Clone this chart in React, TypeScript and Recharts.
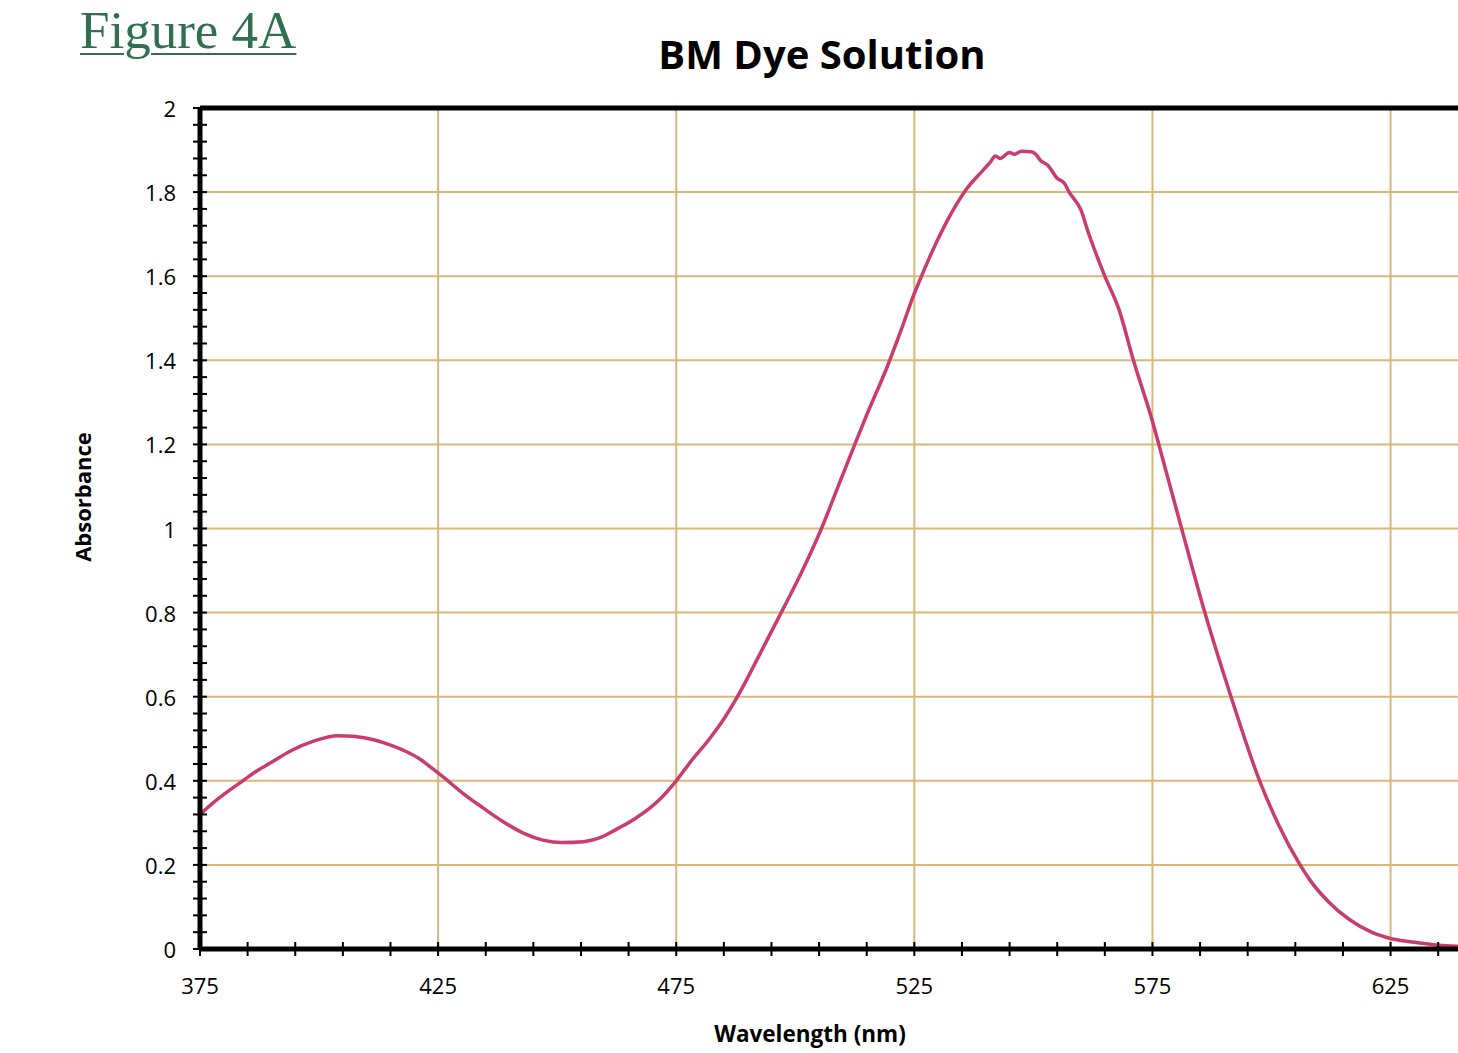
import { CartesianGrid, Line, LineChart, ReferenceLine, XAxis, YAxis } from "recharts";

// spectrum
const wavelength = [
  375, 378, 381, 384, 387, 390, 394, 399, 404, 407, 410, 414, 418, 421, 423.5,
  426.5, 430, 434.5, 438.5, 443, 447, 451, 455.5, 459.5, 462.5, 466.5, 471, 475,
  478, 482, 485, 488, 492.5, 497.5, 501.5, 505.5, 509, 512.5, 515, 519.5, 522,
  525, 526.5, 529, 532, 536, 539.5, 541, 542, 543, 545, 546, 547.5, 549.5,
  550.5, 551.5, 553, 555, 556.5, 557.5, 560, 561.5, 565, 568, 571, 575, 576.5,
  581, 586, 591.5, 597.5, 601.5, 606, 608, 612, 616.5, 621, 625, 630, 635, 640,
];
const absorbance = [
  0.32, 0.35, 0.376, 0.4, 0.424, 0.444, 0.471, 0.495, 0.507, 0.506, 0.501,
  0.489, 0.471, 0.453, 0.432, 0.405, 0.372, 0.335, 0.304, 0.275, 0.259, 0.253,
  0.255, 0.267, 0.285, 0.311, 0.35, 0.4, 0.445, 0.5, 0.547, 0.603, 0.7, 0.81,
  0.9, 1.0, 1.1, 1.2, 1.27, 1.39, 1.465, 1.559, 1.6, 1.665, 1.734, 1.808,
  1.853, 1.872, 1.886, 1.88, 1.894, 1.89, 1.897, 1.896, 1.89, 1.875, 1.864,
  1.833, 1.821, 1.8, 1.757, 1.705, 1.6, 1.52, 1.4, 1.255, 1.193, 1.005, 0.8,
  0.6, 0.4, 0.295, 0.2, 0.165, 0.112, 0.069, 0.04, 0.025, 0.016, 0.009, 0.006,
];

const xLabels = [375, 425, 475, 525, 575, 625];
const xTicks = [
  375, 385, 395, 405, 415, 425, 435, 445, 455, 465, 475, 485, 495, 505, 515,
  525, 535, 545, 555, 565, 575, 585, 595, 605, 615, 625, 635,
];
const yLabels = [0, 0.2, 0.4, 0.6, 0.8, 1, 1.2, 1.4, 1.6, 1.8, 2];
const yTicks = Array.from({ length: 51 }, (_, i) => +(i * 0.04).toFixed(2));

const data = wavelength.map((nm, i) => ({ nm, abs: absorbance[i] }));

const FONT = "'Open Sans', sans-serif";
const GRID = "#d8b878";

const XTick = ({ x, y, payload }: any) => (
  <g>
    <line x1={x} x2={x} y1={y - 7} y2={y + 7} stroke="#000" strokeWidth={2} />
    {xLabels.includes(payload.value) && (
      <text x={x} y={y + 36} textAnchor="middle" dominantBaseline="central" fontSize={22} fontFamily={FONT} fill="#000">
        {payload.value}
      </text>
    )}
  </g>
);

const YTick = ({ x, y, payload }: any) => (
  <g>
    <line x1={x - 7} x2={x + 7} y1={y} y2={y} stroke="#000" strokeWidth={2} />
    {yLabels.includes(payload.value) && (
      <text x={x - 24} y={y} textAnchor="end" dominantBaseline="central" fontSize={22} fontFamily={FONT} fill="#000">
        {String(payload.value)}
      </text>
    )}
  </g>
);

export default function App() {
  return (
    <div
      style={{
        position: "absolute",
        left: 0,
        top: 0,
        width: 1458,
        height: 1053,
        overflow: "hidden",
        background: "#fff",
        fontFamily: FONT,
      }}
    >
      <div
        style={{
          position: "absolute",
          left: 80,
          top: 0,
          fontFamily: "'Liberation Serif', serif",
          fontSize: 53,
          lineHeight: "60px",
          color: "#31704f",
          textDecoration: "underline",
          textDecorationThickness: 2,
          textUnderlineOffset: 5,
          whiteSpace: "nowrap",
        }}
      >
        Figure 4A
      </div>
      <div
        style={{
          position: "absolute",
          left: 822,
          top: 53,
          transform: "translate(-50%, -50%)",
          fontSize: 40,
          fontWeight: 700,
          whiteSpace: "nowrap",
        }}
      >
        BM Dye Solution
      </div>
      <div
        style={{
          position: "absolute",
          left: 82,
          top: 497,
          transform: "translate(-50%, -50%) rotate(-90deg)",
          fontSize: 22,
          fontWeight: 700,
          whiteSpace: "nowrap",
        }}
      >
        Absorbance
      </div>
      <div
        style={{
          position: "absolute",
          left: 810,
          top: 1033,
          transform: "translate(-50%, -50%)",
          fontSize: 22.5,
          fontWeight: 700,
          whiteSpace: "nowrap",
        }}
      >
        Wavelength (nm)
      </div>
      <div style={{ position: "absolute", left: 0, top: 0 }}>
        <LineChart width={1462} height={1053} data={data} margin={{ top: 108, right: 0, bottom: 0, left: 60 }}>
          <CartesianGrid
            horizontalValues={[0.2, 0.4, 0.6, 0.8, 1, 1.2, 1.4, 1.6, 1.8]}
            verticalValues={[425, 475, 525, 575, 625]}
            stroke={GRID}
            strokeWidth={2}
          />
          <XAxis
            type="number"
            dataKey="nm"
            domain={[375, 640]}
            ticks={xTicks}
            interval={0}
            tick={<XTick />}
            tickLine={false}
            tickSize={0}
            tickMargin={0}
            axisLine={{ stroke: "#000", strokeWidth: 5 }}
            height={104}
            allowDataOverflow
          />
          <YAxis
            type="number"
            domain={[0, 2]}
            ticks={yTicks}
            interval={0}
            tick={<YTick />}
            tickLine={false}
            tickSize={0}
            tickMargin={0}
            axisLine={{ stroke: "#000", strokeWidth: 5 }}
            width={140}
            allowDataOverflow
          />
          <ReferenceLine y={2} stroke="#000" strokeWidth={5} />
          <Line
            type="monotone"
            dataKey="abs"
            stroke="#c83c70"
            strokeWidth={3.5}
            dot={false}
            isAnimationActive={false}
          />
        </LineChart>
      </div>
    </div>
  );
}
